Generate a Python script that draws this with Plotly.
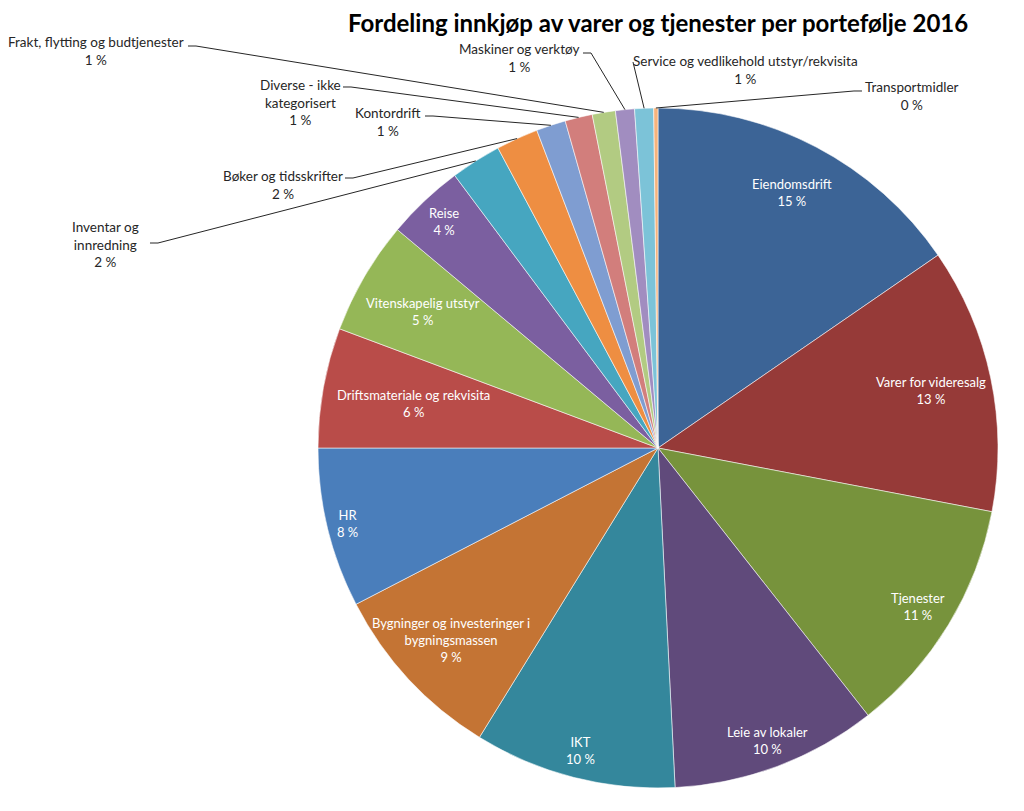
import math
import plotly.graph_objects as go

# ---- data ----
categories = [
    "Eiendomsdrift", "Varer for videresalg", "Tjenester", "Leie av lokaler", "IKT",
    "Bygninger og investeringer i<br>bygningsmassen", "HR", "Driftsmateriale og rekvisita",
    "Vitenskapelig utstyr", "Reise", "Inventar og<br>innredning", "Bøker og tidsskrifter",
    "Kontordrift", "Diverse - ikke<br>kategorisert", "Frakt, flytting og budtjenester",
    "Maskiner og verktøy", "Service og vedlikehold utstyr/rekvisita", "Transportmidler",
]
shares = [15.4, 12.6, 11.4, 9.8, 9.6, 8.6, 7.6, 5.7, 5.4, 3.7,
          2.4, 2.0, 1.4, 1.3, 1.1, 0.9, 0.9, 0.2]
title_text = "Fordeling innkjøp av varer og tjenester per portefølje 2016"

# ---- styles / layout ----
colors = ["#3C6496", "#963A38", "#77933C", "#604A7B", "#34879C", "#C47434",
          "#4A7EBB", "#B94C49", "#95B757", "#7B5FA0", "#46A6C0", "#EE8E42",
          "#7F9DD1", "#D27E7C", "#B2CB82", "#A18DC0", "#7CC3D8", "#F6B37C"]
W, H = 1024, 811
OFF = 8  # page body margin
CX, CY, R = 658, 448, 340
FONT = "Lato, Liberation Sans Narrow, DejaVu Sans Condensed, sans-serif"

inside_r = [0.85, 0.82, 0.895, 0.92, 0.92, 0.83, 0.94, 0.73, 0.80, 0.915]
outside = {
    10: ((105, 245), (150, 243), 1),
    11: ((283, 185), (345, 178), 1),
    12: ((388, 122), (425, 116), 1),
    13: ((300, 102), (343, 87), 1),
    14: ((96, 51), (188, 46), 1),
    15: ((519, 58), (583, 53), 1),
    16: ((745, 70), (633, 62), 0),
    17: ((912, 96), (862, 91), -1),
}

def px2paper(x, y):
    return (x - OFF) / W, 1 - (y - OFF) / H

total = sum(shares)
pct_text = [f"{int(v / total * 100 + 0.5)} %" for v in shares]

x0, y0 = px2paper(CX - R, CY + R)
x1, y1 = px2paper(CX + R, CY - R)
fig = go.Figure(go.Pie(
    values=shares, labels=categories, sort=False, direction="clockwise", rotation=0,
    textinfo="none", hoverinfo="label+percent",
    marker=dict(colors=colors, line=dict(color="rgba(255,255,255,0.55)", width=1)),
    domain=dict(x=[x0, x1], y=[y0, y1]),
    showlegend=False,
))

annotations = []
shapes = []
cum = 0.0
for i, v in enumerate(shares):
    a0 = cum / total * 360
    cum += v
    a1 = cum / total * 360
    mid = math.radians((a0 + a1) / 2)
    label = f"{categories[i]}<br>{pct_text[i]}"
    if i < len(inside_r):
        f = inside_r[i]
        x = CX + R * f * math.sin(mid)
        y = CY - R * f * math.cos(mid)
        px, py = px2paper(x, y)
        annotations.append(dict(x=px, y=py, xref="paper", yref="paper", text=label,
                                showarrow=False, xanchor="center", yanchor="middle",
                                font=dict(family=FONT, size=13, color="#FFFFFF")))
    else:
        (tx, ty), (sx, sy), d = outside[i]
        px, py = px2paper(tx, ty)
        annotations.append(dict(x=px, y=py, xref="paper", yref="paper", text=label,
                                showarrow=False, xanchor="center", yanchor="middle",
                                font=dict(family=FONT, size=13.5, color="#262626")))
        ex = CX + R * math.sin(mid)
        ey = CY - R * math.cos(mid)
        pts = [(sx, sy)]
        if d != 0:
            pts.append((sx + 8 * d, sy))
        pts.append((ex, ey))
        path = "M " + " L ".join(f"{px2paper(a, b)[0]:.5f},{px2paper(a, b)[1]:.5f}" for a, b in pts)
        shapes.append(dict(type="path", path=path, xref="paper", yref="paper",
                           line=dict(color="#262626", width=1)))

tx, ty = px2paper(658, 23)
annotations.append(dict(x=tx, y=ty, xref="paper", yref="paper", text=f"<b>{title_text}</b>",
                        showarrow=False, xanchor="center", yanchor="middle",
                        font=dict(family=FONT, size=24, color="#000000")))

fig.update_layout(width=W, height=H, margin=dict(l=0, r=0, t=0, b=0),
                  paper_bgcolor="white", plot_bgcolor="white",
                  annotations=annotations, shapes=shapes)
fig.write_html("out.html")
